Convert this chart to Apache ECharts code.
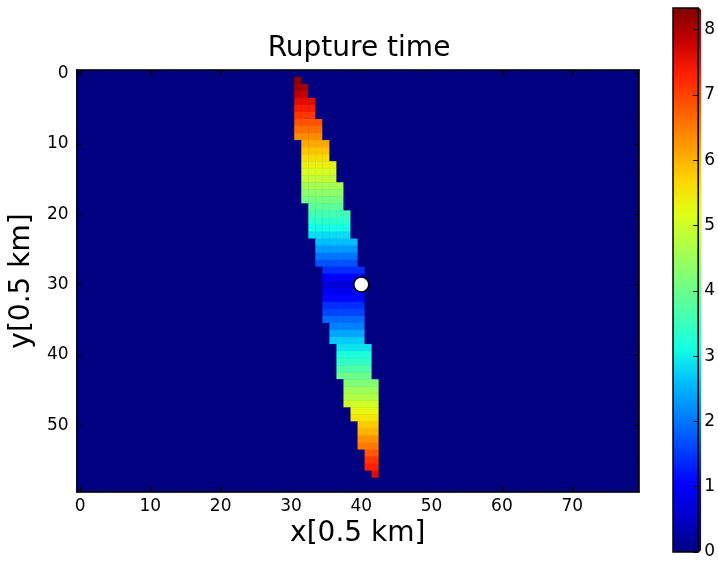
<!DOCTYPE html>
<html>
<head>
<meta charset="utf-8">
<script src="https://cdn.jsdelivr.net/npm/echarts@6/dist/echarts.min.js"></script>
<style>
  html, body { margin: 0; padding: 0; background: #fff; }
  #chart { width: 718px; height: 562px; }
</style>
</head>
<body>
<div id="chart"></div>
<script>
// grid size (cells of 0.5 km)
const nx = 80;
const ny = 60;
const xCategories = [];
for (let i = 0; i < nx; i++) xCategories.push(String(i));
const yCategories = [];
for (let j = 0; j < ny; j++) yCategories.push(String(j));

// ruptured band, one entry per row (-1 = nothing ruptured in that row)
const rowFirstCol = [
  -1, 31, 31, 31, 31, 31, 31, 31, 31, 31,
  32, 32, 32, 32, 32, 32, 32, 32, 32, 33,
  33, 33, 33, 33, 34, 34, 34, 34, 35, 35,
  35, 35, 35, 35, 35, 35, 36, 36, 36, 37,
  37, 37, 37, 37, 38, 38, 38, 38, 39, 39,
  40, 40, 40, 40, 41, 41, 41, 42, -1, -1
];
const rowLastCol = [
  -1, 31, 32, 32, 33, 33, 33, 34, 34, 34,
  35, 35, 35, 36, 36, 36, 37, 37, 37, 37,
  38, 38, 38, 38, 39, 39, 39, 39, 40, 40,
  40, 40, 40, 40, 40, 40, 40, 40, 40, 41,
  41, 41, 41, 41, 42, 42, 42, 42, 42, 42,
  42, 42, 42, 42, 42, 42, 42, 42, -1, -1
];
// rupture time, per row
const rowTime = [
  0, 8.25, 8.1, 7.85, 7.6, 7.35, 7.1, 6.85, 6.6, 6.35,
  6.1, 5.85, 5.6, 5.35, 5.1, 4.85, 4.6, 4.35, 4.1, 3.85,
  3.6, 3.35, 3.1, 2.85, 2.6, 2.3, 2.0, 1.7, 1.4, 1.0,
  0.7, 0.9, 1.1, 1.4, 1.6, 1.9, 2.1, 2.4, 2.7, 2.9,
  3.2, 3.4, 3.7, 4.0, 4.2, 4.5, 4.7, 5.0, 5.3, 5.5,
  5.8, 6.0, 6.3, 6.5, 6.8, 7.1, 7.3, 7.6, 0, 0
];
const hypocenter = [40, 30];
const timeMax = 8.33;

// matplotlib "jet"
const jetColors = [
  '#000080', '#0000c8', '#0000ff', '#0040ff', '#0080ff', '#00bfff',
  '#15ffe2', '#48ffaf', '#7bff7b', '#afff48', '#e2ff15', '#ffd200',
  '#ff9700', '#ff5c00', '#ff2100', '#c80000', '#800000'
];

const font = 'DejaVu Sans';
const plotW = 563, plotH = 422;
const barW = 28, barH = 544;

function buildCells() {
  const cells = [];
  for (let j = 0; j < ny; j++) {
    for (let i = 0; i < nx; i++) {
      let v = 0;
      if (rowFirstCol[j] >= 0 && i >= rowFirstCol[j] && i <= rowLastCol[j]) v = rowTime[j];
      cells.push([i, j, v]);
    }
  }
  return cells;
}

const chart = echarts.init(document.getElementById('chart'), null, { renderer: 'canvas' });

// matplotlib classic: ticks inside on all four sides
const tickStyle = { show: true, inside: true, length: 5, alignWithLabel: true, interval: 9, lineStyle: { color: '#000', width: 1 } };
const lineStyle = { show: true, onZero: false, lineStyle: { color: '#000', width: 1.5 } };

const option = {
  animation: false,
  title: {
    text: 'Rupture time',
    left: 'center',
    top: 30,
    textStyle: { fontFamily: font, fontSize: 28, fontWeight: 'normal', color: '#000' }
  },
  grid: [
    // background in the colour of 0 so the cell seams do not show
    { left: 76, top: 70, width: plotW, height: plotH, show: true, backgroundColor: jetColors[0], borderWidth: 0 },
    { left: 673, top: 8, width: barW, height: barH, show: true, borderColor: '#000', borderWidth: 1.5, backgroundColor: 'transparent', z: 10 }
  ],
  xAxis: [
    {
      type: 'category', gridIndex: 0, data: xCategories, position: 'bottom', z: 10,
      name: 'x[0.5 km]', nameLocation: 'middle', nameGap: 28,
      nameTextStyle: { fontFamily: font, fontSize: 28, color: '#000' },
      axisLine: lineStyle, axisTick: tickStyle,
      axisLabel: { interval: 9, margin: 6, fontFamily: font, fontSize: 17, color: '#000' },
      splitLine: { show: false }
    },
    {
      type: 'category', gridIndex: 0, data: xCategories, position: 'top', z: 10,
      axisLine: lineStyle, axisTick: tickStyle, axisLabel: { show: false }, splitLine: { show: false }
    },
    {
      type: 'value', gridIndex: 1, min: 0, max: 1, show: false
    }
  ],
  yAxis: [
    {
      type: 'category', gridIndex: 0, data: yCategories, inverse: true, position: 'left', z: 10,
      name: 'y[0.5 km]', nameLocation: 'middle', nameGap: 26, nameRotate: 90,
      nameTextStyle: { fontFamily: font, fontSize: 28, color: '#000' },
      axisLine: lineStyle, axisTick: tickStyle,
      axisLabel: { interval: 9, margin: 8, fontFamily: font, fontSize: 17, color: '#000' },
      splitLine: { show: false }
    },
    {
      type: 'category', gridIndex: 0, data: yCategories, inverse: true, position: 'right', z: 10,
      axisLine: lineStyle, axisTick: tickStyle, axisLabel: { show: false }, splitLine: { show: false }
    },
    {
      // colour bar scale
      type: 'value', gridIndex: 1, min: 0, max: timeMax, interval: 1, position: 'right', z: 10,
      axisLine: { show: false, onZero: false },
      axisTick: { show: true, inside: true, length: 5, lineStyle: { color: '#000', width: 1 } },
      axisLabel: { margin: 6, showMaxLabel: false, fontFamily: font, fontSize: 17, color: '#000' },
      splitLine: { show: false }
    }
  ],
  visualMap: {
    type: 'continuous',
    seriesIndex: 0,
    min: 0,
    max: timeMax,
    orient: 'vertical',
    left: 673,
    top: 8,
    padding: 0,
    itemWidth: barW,
    itemHeight: barH,
    calculable: false,
    hoverLink: false,
    inRange: { color: jetColors }
  },
  series: [
    {
      type: 'heatmap',
      xAxisIndex: 0,
      yAxisIndex: 0,
      data: buildCells(),
      progressive: 0,
      emphasis: { disabled: true }
    },
    {
      type: 'scatter',
      xAxisIndex: 0,
      yAxisIndex: 0,
      data: [hypocenter],
      symbolSize: 15,
      itemStyle: { color: '#fff', opacity: 1, borderColor: '#000', borderWidth: 1.5 },
      emphasis: { disabled: true },
      z: 5
    }
  ]
};
chart.setOption(option);
</script>
</body>
</html>
